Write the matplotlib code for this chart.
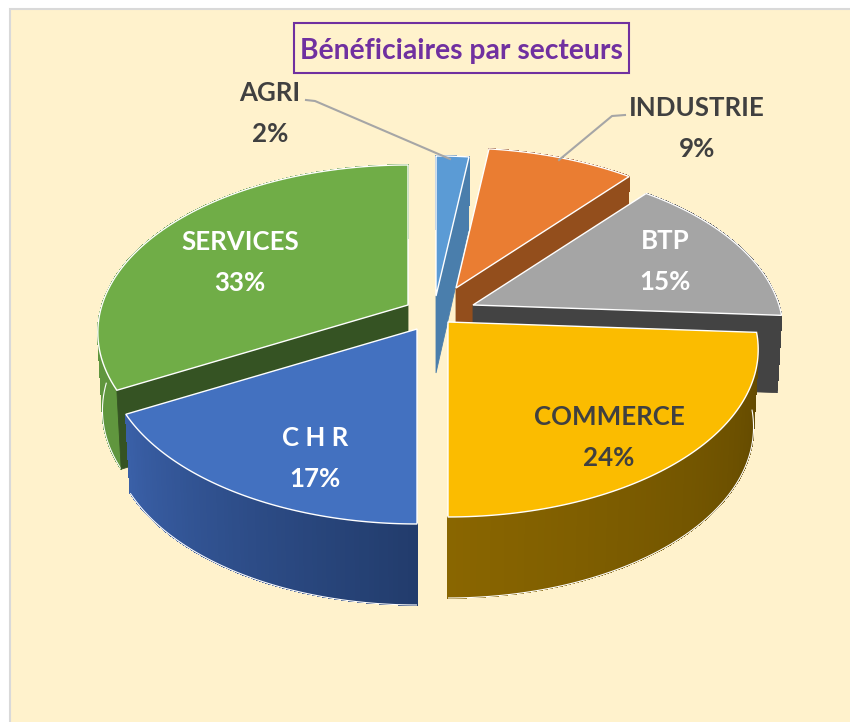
import numpy as np
import matplotlib
matplotlib.use('Agg')
import matplotlib.pyplot as plt
from matplotlib.colors import to_rgb
from matplotlib.patches import Rectangle, Polygon

# chart data
sectors = ['AGRI', 'INDUSTRIE', 'BTP', 'COMMERCE', 'C H R', 'SERVICES']
shares = [2, 9, 15, 24, 17, 33]

top_colors = ['#5B9BD5', '#EA7D32', '#A5A5A5', '#FBBC00', '#4371C0', '#70AD47']
side_colors = ['#4A7EAC', '#934E1C', '#434343', '#5F4700', '#223C6C', '#355323']
rim_start = ['#4A7EAC', '#934E1C', '#434343', '#5F4700', '#223C6C', '#60963E']
rim_end = ['#4A7EAC', '#934E1C', '#434343', '#8A6600', '#3A60A8', '#60963E']

# apex of each exploded slice, in pixels
apex_x = [436, 456, 473, 448, 417, 408]
apex_y = [296, 288, 305, 322, 329, 305]
label_x = [270, 697, 665, 609, 315, 240]
label_y = [93, 108, 241, 417, 438, 242]
label_colors = ['#404040', '#404040', 'white', '#404040', 'white', 'white']

radius_x = 306.0
radius_y = 163.0
persp = 0.164
depth = 77.0
fsize = 18.6


def project(i, t, r=1.0):
    # t clockwise from 12 o'clock, degrees. returns top and bottom pixel positions
    t = np.radians(t)
    u = r * np.sin(t)
    v = -r * np.cos(t)
    x = radius_x * u / (1 - persp * v)
    y = radius_y * v / (1 - persp * v)
    top = (apex_x[i] + x, apex_y[i] + y)
    bot = (apex_x[i] + 0.985 * x, apex_y[i] + y + depth + 4 * v)
    return top, bot


def draw_slice(ax, i, t0, t1):
    ts = np.linspace(t0, t1, 80)
    tops = [project(i, t)[0] for t in ts]
    bots = [project(i, t)[1] for t in ts]
    atop, abot = project(i, t0, 0.0)

    # outer wall, strips for the shading
    c0 = np.array(to_rgb(rim_start[i]))
    c1 = np.array(to_rgb(rim_end[i]))
    n = len(ts) - 1
    for k in range(n):
        col = c0 + (c1 - c0) * k / n
        ax.add_patch(Polygon([tops[k], tops[k + 1], bots[k + 1], bots[k]], closed=True,
                             fc=col, ec=col, lw=0.5, antialiased=False))

    # white edge under the wall, front half only
    front = [b for b, t in zip(bots, ts) if np.cos(np.radians(t)) <= 0]
    if len(front) > 1:
        ax.add_patch(Polygon(front, closed=False, fill=False, ec='white', lw=0.8))

    # radial walls, only the ones facing the viewer
    for t, show in ((t1, np.sin(np.radians(t1)) > 0.01), (t0, np.sin(np.radians(t0)) < -0.01)):
        if show:
            rtop, rbot = project(i, t)
            ax.add_patch(Polygon([atop, rtop, rbot, abot], closed=True, fc=side_colors[i],
                                 ec=side_colors[i], lw=0.6))

    # top face
    ax.add_patch(Polygon([atop] + tops, closed=True, fc=top_colors[i], ec='white', lw=1.0))


fig = plt.figure(figsize=(8.5, 7.22), dpi=100)
plt.rcParams['font.family'] = ['Lato', 'DejaVu Sans']
ax = fig.add_axes([0, 0, 1, 1])
ax.set_xlim(0, 850)
ax.set_ylim(722, 0)
ax.axis('off')

# panel
ax.add_patch(Rectangle((10, 9), 860, 730, fc='#FFF2CC', ec='#D9D9D9', lw=1.5))

# slice angles come from the shares
edges = np.concatenate([[0], np.cumsum(shares)]) * 3.6
for i in [0, 1, 2, 5, 3, 4]:
    draw_slice(ax, i, edges[i], edges[i + 1])

# leader lines
ax.plot([306, 315, 450], [100, 101, 159], color='#A6A6A6', lw=1.5)
ax.plot([625, 612, 559], [115, 116, 160], color='#A6A6A6', lw=1.5)

# labels
for i in range(len(sectors)):
    ax.text(label_x[i], label_y[i], sectors[i], color=label_colors[i], fontsize=fsize,
            fontweight='bold', ha='center', va='center')
    ax.text(label_x[i], label_y[i] + 41, '%d%%' % shares[i], color=label_colors[i],
            fontsize=fsize, fontweight='bold', ha='center', va='center')

# title
ax.add_patch(Rectangle((294, 23), 335, 50, fc='none', ec='#7030A0', lw=1.5))
ax.text(461, 51, 'Bénéficiaires par secteurs', color='#7030A0', fontsize=20.3,
        fontweight='bold', ha='center', va='center')

fig.savefig('out.png', dpi=100)
